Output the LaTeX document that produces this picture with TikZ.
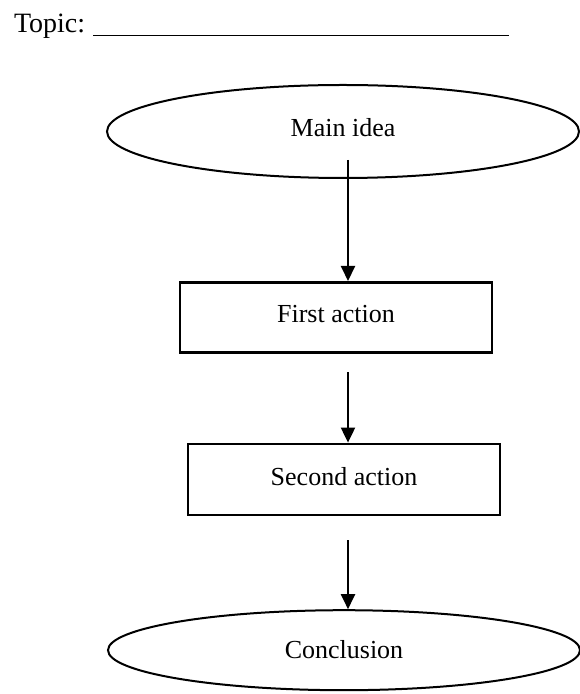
\documentclass[tikz,border=0pt,12pt]{standalone}
\usepackage{fontspec}
\setmainfont{Liberation Serif}
\usepackage{tikz}
\usetikzlibrary{arrows.meta,positioning,calc,shapes.geometric}

\begin{document}
\begin{tikzpicture}[x=0.5pt,y=-0.5pt,->,>={Triangle[length=7.5pt,width=7pt]},
  line width=1pt,font=\fontsize{13}{15}\selectfont,
  idea node/.style={ellipse,draw,inner sep=0pt,minimum width=236pt},
  action node/.style={rectangle,draw,line width=1.3pt,inner sep=0pt,
    minimum width=156pt}]
    \useasboundingbox (0,0) rectangle (579,694);
    \node[anchor=base west,inner sep=0pt,font=\fontsize{14}{16}\selectfont](topic) at (13,33)
      {Topic:\hspace{4pt}\rule[-1.5pt]{208pt}{0.7pt}};
    \node[idea node,minimum height=46.5pt](main) at (343,131.5)
      {\raisebox{4pt}{Main idea}};
    \node[action node,minimum height=35pt,below=51pt of main,xshift=-3.5pt](first)
      {\raisebox{3.5pt}{First action}};
    \node[action node,minimum height=35.5pt,below=44.5pt of first,xshift=4pt](second)
      {\raisebox{3pt}{Second action}};
    \node[idea node,minimum height=40pt,below=46.5pt of second](concl)
      {\raisebox{1pt}{Conclusion}};
    \coordinate (s1) at (348,160);
    \coordinate (s2) at (348,372);
    \coordinate (s3) at (348,540);
    \draw (s1) -- (s1 |- first.north);
    \draw (s2) -- (s2 |- second.north);
    \draw (s3) -- (s3 |- concl.north);
\end{tikzpicture}
\end{document}
